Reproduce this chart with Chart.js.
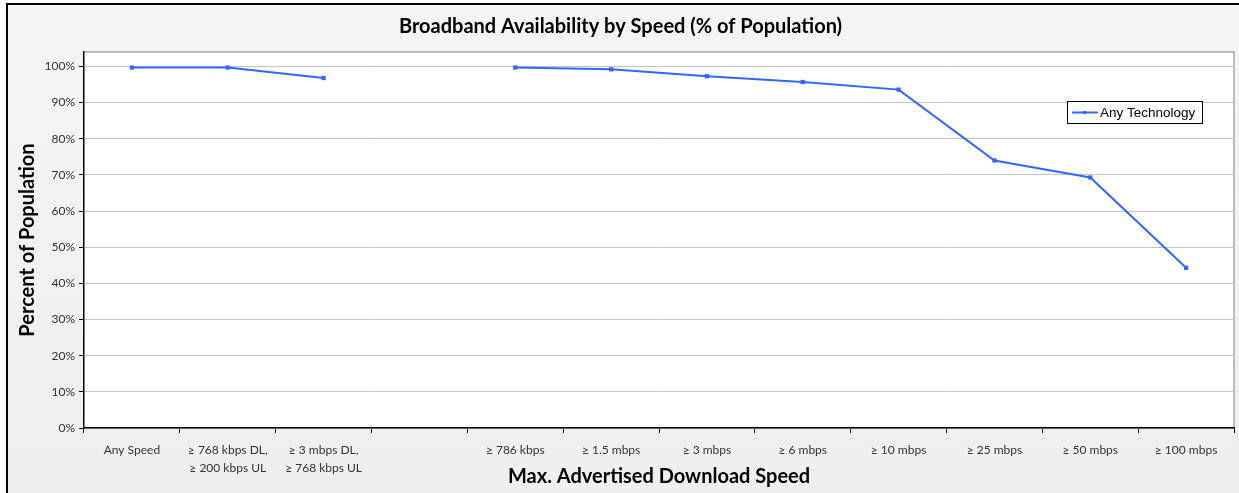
<!DOCTYPE html>
<html>
<head>
<meta charset="utf-8">
<script src="https://cdn.jsdelivr.net/npm/chart.js@4/dist/chart.umd.min.js"></script>
<style>
	html, body { margin: 0; padding: 0; background: #fff; }
	#wrap { width: 1239px; height: 493px; }
</style>
</head>
<body>
<div id="wrap"><canvas id="grafico" width="1239" height="493"></canvas></div>
<script>
const categorias = [
	'Any Speed',
	['\u2265 768 kbps DL,', '\u2265 200 kbps UL'],
	['\u2265 3 mbps DL,', '\u2265 768 kbps UL'],
	'',
	'\u2265 786 kbps',
	'\u2265 1.5 mbps',
	'\u2265 3 mbps',
	'\u2265 6 mbps',
	'\u2265 10 mbps',
	'\u2265 25 mbps',
	'\u2265 50 mbps',
	'\u2265 100 mbps'
];
const anyTechnology = [99.7, 99.7, 96.8, null, 99.7, 99.2, 97.3, 95.7, 93.6, 74.0, 69.3, 44.3];
const yTicks = [0, 10, 20, 30, 40, 50, 60, 70, 80, 90, 100];

const corLinha = '#3366ff';

// fundo cinza com borda preta, caixa do grafico e legenda
const fundoPlugin = {
	id: 'fundo',
	beforeDraw(chart) {
		const ctx = chart.ctx;
		ctx.save();
		const g = ctx.createLinearGradient(0, 4, 0, 493);
		g.addColorStop(0, '#f5f5f5');
		g.addColorStop(1, '#efefef');
		ctx.fillStyle = g;
		ctx.fillRect(7, 4, 1239, 493);
		ctx.strokeStyle = '#000';
		ctx.lineWidth = 2;
		ctx.beginPath();
		ctx.moveTo(7, 500);
		ctx.lineTo(7, 4);
		ctx.lineTo(1245, 4);
		ctx.stroke();
		const a = chart.chartArea;
		ctx.fillStyle = '#fff';
		ctx.fillRect(a.left, a.top, a.right - a.left, a.bottom - a.top);
		ctx.strokeStyle = '#a6a6a6';
		ctx.lineWidth = 1.5;
		ctx.beginPath();
		ctx.moveTo(a.left, a.top);
		ctx.lineTo(a.right, a.top);
		ctx.lineTo(a.right, a.bottom);
		ctx.stroke();
		ctx.restore();
	},
	afterDraw(chart) {
		const ctx = chart.ctx;
		const a = chart.chartArea;
		const w = 135, h = 22;
		const x = a.right - 32 - w, y = a.top + 49;
		ctx.save();
		ctx.fillStyle = '#fff';
		ctx.fillRect(x, y, w, h);
		ctx.strokeStyle = '#000';
		ctx.lineWidth = 1;
		ctx.strokeRect(x + 0.5, y + 0.5, w, h);
		ctx.strokeStyle = corLinha;
		ctx.lineWidth = 2;
		ctx.beginPath();
		ctx.moveTo(x + 5, y + 11.5);
		ctx.lineTo(x + 31, y + 11.5);
		ctx.stroke();
		ctx.fillStyle = corLinha;
		ctx.fillRect(x + 16, y + 10, 3, 3);
		ctx.fillStyle = '#000';
		ctx.font = '13.5px "Liberation Sans", Arial, sans-serif';
		ctx.textBaseline = 'middle';
		ctx.fillText(chart.data.datasets[0].label, x + 33, y + 12);
		ctx.restore();
	}
};

function montaGrafico() {
	const ctx = document.getElementById('grafico');
	new Chart(ctx, {
		type: 'line',
		data: {
			labels: categorias,
			datasets: [{
				label: 'Any Technology',
				data: anyTechnology,
				borderColor: corLinha,
				backgroundColor: corLinha,
				borderWidth: 2,
				pointStyle: 'rect',
				pointRadius: 3,
				pointBorderWidth: 0,
				spanGaps: false,
				tension: 0
			}]
		},
		options: {
			responsive: false,
			animation: false,
			layout: { padding: { left: 7, right: 5, top: 4, bottom: 0 } },
			plugins: {
				legend: { display: false },
				tooltip: { enabled: false },
				title: {
					display: true,
					text: 'Broadband Availability by Speed (% of Population)',
					color: '#000',
					font: { family: 'Lato', size: 20, weight: 'bold' },
					padding: { top: 11, bottom: 13 }
				}
			},
			scales: {
				x: {
					offset: true,
					afterFit(scale) { scale.height = 65; },
					grid: {
						offset: true,
						drawOnChartArea: false,
						tickLength: 5,
						tickColor: '#000'
					},
					border: { color: '#000', width: 1.5 },
					ticks: {
						color: '#333',
						font: { family: 'Lato', size: 12, lineHeight: 1.5 },
						maxRotation: 0,
						autoSkip: false,
						padding: 8
					},
					title: {
						display: true,
						text: 'Max. Advertised Download Speed',
						color: '#000',
						font: { family: 'Lato', size: 20, weight: 'bold' },
						padding: { top: 0, bottom: 4 }
					}
				},
				y: {
					min: 0,
					max: 104,
					afterFit(scale) { scale.width = 77; },
					afterBuildTicks(scale) {
						scale.ticks = yTicks.map(v => ({ value: v }));
					},
					grid: {
						color: '#c4c4c4',
						tickLength: 5,
						tickColor: '#000'
					},
					border: { color: '#000', width: 1.5 },
					ticks: {
						color: '#333',
						font: { family: 'Lato', size: 12 },
						padding: 4,
						callback: (v) => v + '%'
					},
					title: {
						display: true,
						text: 'Percent of Population',
						color: '#000',
						font: { family: 'Lato', size: 20, weight: 'bold' },
						padding: { top: 9, bottom: 0 }
					}
				}
			}
		},
		plugins: [fundoPlugin]
	});
}

montaGrafico();
</script>
</body>
</html>
